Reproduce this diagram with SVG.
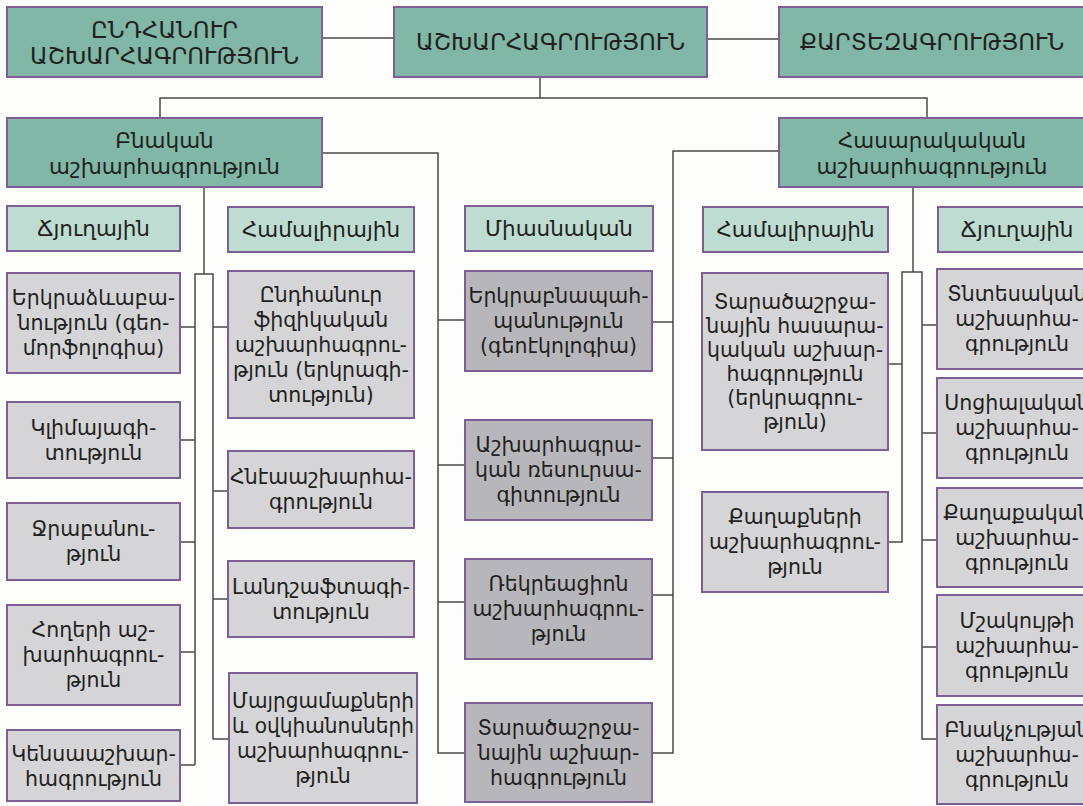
<svg xmlns="http://www.w3.org/2000/svg" width="1083" height="806" viewBox="0 0 1083 806">
<style>
.t1{fill:#80b7a6;stroke:#7d5f95;stroke-width:2}
.t2{fill:#bedcd2;stroke:#7d5f95;stroke-width:2}
.g1{fill:#d5d5d8;stroke:#7d5f95;stroke-width:2}
.g2{fill:#b7b7bb;stroke:#7d5f95;stroke-width:2}
text{font-family:"DejaVu Sans",sans-serif;fill:#231f20;text-anchor:middle;dominant-baseline:central}
.cap{font-size:23px}
.hd{font-size:21.5px}
.bd{font-size:20.5px}
.con{fill:none;stroke:#4a4a4a;stroke-width:1.5}
</style>
<rect width="1083" height="806" fill="#fdfdfb"/>
<g id="connectors" class="con">
<path d="M322,38H394"/>
<path d="M707,39H779"/>
<path d="M540,77V98"/>
<path d="M160,118V98H927V118"/>
<path d="M322,153H438V753H465"/>
<path d="M438,320H465M438,465H465M438,602H465"/>
<path d="M779,151H673V753H652"/>
<path d="M652,322H673M652,458H673M652,595H673"/>
<path d="M204,187V274"/>
<path d="M195,765V274H213V739H228"/>
<path d="M180,327H195M180,440H195M180,542H195M180,652H195M180,765H195"/>
<path d="M213,327H228M213,491H228M213,599H228"/>
<path d="M913,187V272"/>
<path d="M888,542H902V272H922V739H937"/>
<path d="M888,364H902"/>
<path d="M922,325H937M922,433H937M922,540H937M922,647H937"/>
</g>
<g id="n-general"><rect class="t1" x="7" y="7" width="315" height="70"/><text class="cap" x="164.5" y="30">ԸՆԴՀԱՆՈՒՐ</text><text class="cap" x="164.5" y="56">ԱՇԽԱՐՀԱԳՐՈՒԹՅՈՒՆ</text></g>
<g id="n-geo"><rect class="t1" x="394" y="7" width="313" height="70"/><text class="cap" x="550.5" y="42">ԱՇԽԱՐՀԱԳՐՈՒԹՅՈՒՆ</text></g>
<g id="n-carto"><rect class="t1" x="779" y="7" width="320" height="70"/><text class="cap" x="932" y="42">ՔԱՐՏԵԶԱԳՐՈՒԹՅՈՒՆ</text></g>
<g id="n-physical"><rect class="t1" x="7" y="118" width="315" height="69"/><text class="hd" x="164.5" y="140">Բնական</text><text class="hd" x="164.5" y="166">աշխարհագրություն</text></g>
<g id="n-social"><rect class="t1" x="779" y="118" width="320" height="69"/><text class="hd" x="932" y="140">Հասարակական</text><text class="hd" x="932" y="166">աշխարհագրություն</text></g>
<g id="h-branch-l"><rect class="t2" x="7" y="206" width="173" height="45"/><text class="hd" x="93.5" y="228.5">Ճյուղային</text></g>
<g id="h-complex-l"><rect class="t2" x="228" y="207" width="186" height="45"/><text class="hd" x="321" y="229.5">Համալիրային</text></g>
<g id="h-unified"><rect class="t2" x="465" y="206" width="188" height="45"/><text class="hd" x="559" y="228.5">Միասնական</text></g>
<g id="h-complex-r"><rect class="t2" x="703" y="207" width="185" height="45"/><text class="hd" x="795.5" y="229.5">Համալիրային</text></g>
<g id="h-branch-r"><rect class="t2" x="938" y="207" width="170" height="45"/><text class="hd" x="1017" y="229.5">Ճյուղային</text></g>
<g id="l1"><rect class="g1" x="7" y="273" width="173" height="100"/><text class="bd" x="93.5" y="298">Երկրաձևաբա-</text><text class="bd" x="93.5" y="323">նություն (գեո-</text><text class="bd" x="93.5" y="348">մորֆոլոգիա)</text></g>
<g id="l2"><rect class="g1" x="7" y="402" width="173" height="76"/><text class="bd" x="93.5" y="427.5">Կլիմայագի-</text><text class="bd" x="93.5" y="452.5">տություն</text></g>
<g id="l3"><rect class="g1" x="7" y="503" width="173" height="77"/><text class="bd" x="93.5" y="529">Ջրաբանու-</text><text class="bd" x="93.5" y="554">թյուն</text></g>
<g id="l4"><rect class="g1" x="7" y="605" width="173" height="100"/><text class="bd" x="93.5" y="630">Հողերի աշ-</text><text class="bd" x="93.5" y="655">խարհագրու-</text><text class="bd" x="93.5" y="680">թյուն</text></g>
<g id="l5"><rect class="g1" x="7" y="730" width="173" height="71"/><text class="bd" x="93.5" y="754">Կենսաաշխար-</text><text class="bd" x="93.5" y="779">հագրություն</text></g>
<g id="c1"><rect class="g1" x="228" y="271" width="186" height="147"/><text class="bd" x="321" y="294.5">Ընդհանուր</text><text class="bd" x="321" y="319.5">ֆիզիկական</text><text class="bd" x="321" y="344.5">աշխարհագրու-</text><text class="bd" x="321" y="369.5">թյուն (երկրագի-</text><text class="bd" x="321" y="394.5">տություն)</text></g>
<g id="c2"><rect class="g1" x="228" y="451" width="186" height="77"/><text class="bd" x="321" y="477">Հնէաաշխարհա-</text><text class="bd" x="321" y="502">գրություն</text></g>
<g id="c3"><rect class="g1" x="228" y="561" width="186" height="76"/><text class="bd" x="321" y="586.5">Լանդշաֆտագի-</text><text class="bd" x="321" y="611.5">տություն</text></g>
<g id="c4"><rect class="g1" x="229" y="673" width="188" height="130"/><text class="bd" x="323" y="700.5" textLength="182" lengthAdjust="spacingAndGlyphs">Մայրցամաքների</text><text class="bd" x="323" y="725.5" textLength="182" lengthAdjust="spacingAndGlyphs">և օվկիանոսների</text><text class="bd" x="323" y="750.5">աշխարհագրու-</text><text class="bd" x="323" y="775.5">թյուն</text></g>
<g id="m1"><rect class="g2" x="465" y="271" width="187" height="100"/><text class="bd" x="558.5" y="296">Երկրաբնապահ-</text><text class="bd" x="558.5" y="321">պանություն</text><text class="bd" x="558.5" y="346">(գեոէկոլոգիա)</text></g>
<g id="m2"><rect class="g2" x="465" y="420" width="187" height="100"/><text class="bd" x="558.5" y="445">Աշխարհագրա-</text><text class="bd" x="558.5" y="470">կան ռեսուրսա-</text><text class="bd" x="558.5" y="495">գիտություն</text></g>
<g id="m3"><rect class="g2" x="465" y="559" width="187" height="100"/><text class="bd" x="558.5" y="584">Ռեկրեացիոն</text><text class="bd" x="558.5" y="609">աշխարհագրու-</text><text class="bd" x="558.5" y="634">թյուն</text></g>
<g id="m4"><rect class="g2" x="465" y="703" width="187" height="99"/><text class="bd" x="558.5" y="727.5">Տարածաշրջա-</text><text class="bd" x="558.5" y="752.5">նային աշխար-</text><text class="bd" x="558.5" y="777.5">հագրություն</text></g>
<g id="s1"><rect class="g1" x="702" y="273" width="186" height="177"/><text class="bd" x="795" y="301.5">Տարածաշրջա-</text><text class="bd" x="795" y="325.5">նային հասարա-</text><text class="bd" x="795" y="349.5">կական աշխար-</text><text class="bd" x="795" y="373.5">հագրություն</text><text class="bd" x="795" y="397.5">(երկրագրու-</text><text class="bd" x="795" y="421.5">թյուն)</text></g>
<g id="s2"><rect class="g1" x="702" y="492" width="186" height="100"/><text class="bd" x="795" y="517">Քաղաքների</text><text class="bd" x="795" y="542">աշխարհագրու-</text><text class="bd" x="795" y="567">թյուն</text></g>
<g id="r1"><rect class="g1" x="937" y="269" width="170" height="100"/><text class="bd" x="1017" y="294">Տնտեսական</text><text class="bd" x="1017" y="319">աշխարհա-</text><text class="bd" x="1017" y="344">գրություն</text></g>
<g id="r2"><rect class="g1" x="937" y="378" width="170" height="100"/><text class="bd" x="1017" y="403">Սոցիալական</text><text class="bd" x="1017" y="428">աշխարհա-</text><text class="bd" x="1017" y="453">գրություն</text></g>
<g id="r3"><rect class="g1" x="937" y="488" width="170" height="99"/><text class="bd" x="1017" y="512.5">Քաղաքական</text><text class="bd" x="1017" y="537.5">աշխարհա-</text><text class="bd" x="1017" y="562.5">գրություն</text></g>
<g id="r4"><rect class="g1" x="937" y="595" width="170" height="101"/><text class="bd" x="1017" y="620.5">Մշակույթի</text><text class="bd" x="1017" y="645.5">աշխարհա-</text><text class="bd" x="1017" y="670.5">գրություն</text></g>
<g id="r5"><rect class="g1" x="937" y="705" width="170" height="99"/><text class="bd" x="1017" y="729.5">Բնակչության</text><text class="bd" x="1017" y="754.5">աշխարհա-</text><text class="bd" x="1017" y="779.5">գրություն</text></g>
</svg>
